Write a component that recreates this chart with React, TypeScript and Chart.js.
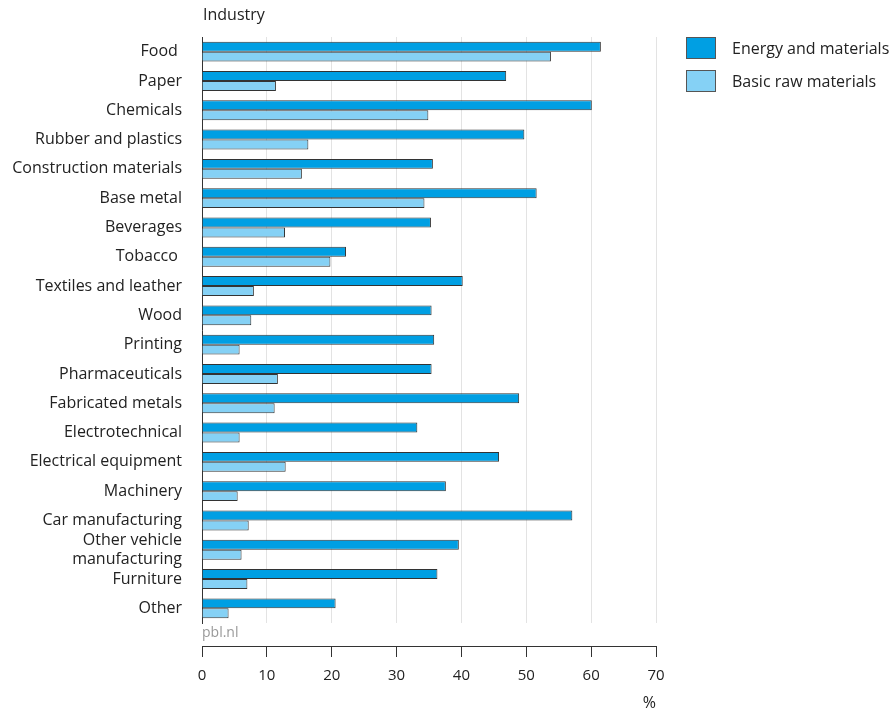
import React, { useEffect, useRef } from "react";
import { Chart, registerables } from "chart.js";

Chart.register(...registerables);

const categories: (string | string[])[] = [
  "Food ",
  "Paper",
  "Chemicals",
  "Rubber and plastics",
  "Construction materials",
  "Base metal",
  "Beverages",
  "Tobacco ",
  "Textiles and leather",
  "Wood",
  "Printing",
  "Pharmaceuticals",
  "Fabricated metals",
  "Electrotechnical",
  "Electrical equipment",
  "Machinery",
  "Car manufacturing",
  ["Other vehicle", "manufacturing"],
  "Furniture",
  "Other",
];

const energyAndMaterials = [
  61.5, 46.9, 60.1, 49.7, 35.6, 51.6, 35.3, 22.2, 40.2, 35.4, 35.8, 35.4, 48.9,
  33.2, 45.8, 37.6, 57.1, 39.6, 36.3, 20.6,
];

const basicRawMaterials = [
  53.8, 11.4, 34.9, 16.4, 15.4, 34.3, 12.8, 19.8, 8.0, 7.6, 5.8, 11.7, 11.2,
  5.8, 12.9, 5.5, 7.2, 6.1, 7.0, 4.1,
];

const seriesNames = ["Energy and materials", "Basic raw materials"];
const seriesColors = ["#009FE3", "#85D1F5"];
const xMin = 0;
const xMax = 70;
const xStep = 10;
const yTitle = "Industry";
const xUnit = "%";
const sourceText = "pbl.nl";

const FONT = "'Open Sans', 'Noto Sans', sans-serif";
const TEXT = "#222222";

const industryLabel = {
  id: "industryLabel",
  afterDraw(chart: any) {
    const { ctx, chartArea } = chart;
    ctx.save();
    ctx.font = `16px ${FONT}`;
    ctx.fillStyle = TEXT;
    ctx.textAlign = "left";
    ctx.textBaseline = "middle";
    ctx.fillText(yTitle, chartArea.left + 1, 15);
    ctx.restore();
  },
};

export default function App() {
  const ref = useRef<HTMLCanvasElement | null>(null);

  useEffect(() => {
    if (!ref.current) return;
    const chart = new Chart(ref.current, {
      type: "bar",
      data: {
        labels: categories as any,
        datasets: [
          {
            label: seriesNames[0],
            data: energyAndMaterials,
            backgroundColor: seriesColors[0],
            borderColor: "#333333",
            borderWidth: 1,
            xAxisID: "x",
          },
          {
            label: seriesNames[1],
            data: basicRawMaterials,
            backgroundColor: seriesColors[1],
            borderColor: "#333333",
            borderWidth: 1,
            xAxisID: "x",
          },
        ],
      },
      options: {
        indexAxis: "y",
        animation: false,
        responsive: false,
        maintainAspectRatio: false,
        categoryPercentage: 0.68,
        barPercentage: 1.0,
        layout: { padding: { top: 37, right: 239, bottom: 0, left: 0 } },
        plugins: {
          legend: { display: false },
          tooltip: { enabled: false },
          title: { display: false },
        },
        scales: {
          x: {
            type: "linear",
            position: "bottom",
            weight: 0,
            min: xMin,
            max: xMax,
            ticks: { display: false, stepSize: xStep },
            grid: {
              color: "#e3e3e3",
              lineWidth: 1,
              drawOnChartArea: true,
              drawTicks: false,
            },
            border: { display: false },
            title: {
              display: true,
              text: sourceText,
              align: "start",
              color: "#999999",
              font: { family: FONT, size: 14 },
              padding: { top: 0, bottom: 5 },
            },
            afterFit(scale: any) {
              scale.height = 23;
            },
          },
          x2: {
            type: "linear",
            position: "bottom",
            weight: 1,
            min: xMin,
            max: xMax,
            ticks: {
              stepSize: xStep,
              color: TEXT,
              font: { family: FONT, size: 15 },
              padding: 10,
            },
            grid: {
              drawOnChartArea: false,
              drawTicks: true,
              tickLength: 11,
              color: "#333333",
              lineWidth: 1,
            },
            border: { display: true, color: "#333333", width: 1 },
            title: {
              display: true,
              text: xUnit,
              align: "end",
              color: TEXT,
              font: { family: FONT, size: 16 },
              padding: { top: 0, bottom: 2 },
            },
            afterFit(scale: any) {
              scale.height = 69;
            },
          },
          y: {
            type: "category",
            position: "left",
            grid: { display: true, drawOnChartArea: false, drawTicks: false },
            border: { display: true, color: "#333333", width: 1 },
            ticks: {
              color: TEXT,
              font: { family: FONT, size: 16 },
              padding: 20,
              autoSkip: false,
            },
            afterFit(scale: any) {
              scale.width = 202;
            },
          },
        },
      },
      plugins: [industryLabel],
    });
    return () => chart.destroy();
  }, []);

  return (
    <div
      style={{
        position: "fixed",
        left: 0,
        top: 0,
        width: 895,
        height: 715,
        background: "#ffffff",
      }}
    >
      <canvas ref={ref} width={895} height={715} />
      {seriesNames.map((name, i) => (
        <div
          key={name}
          style={{
            position: "absolute",
            left: 686,
            top: 37 + i * 33,
            height: 22,
            display: "flex",
            alignItems: "center",
            fontFamily: FONT,
            fontSize: 16,
            color: TEXT,
            whiteSpace: "nowrap",
          }}
        >
          <span
            style={{
              display: "inline-block",
              width: 28,
              height: 20,
              background: seriesColors[i],
              border: "1px solid #555555",
              marginRight: 16,
            }}
          />
          {name}
        </div>
      ))}
    </div>
  );
}
